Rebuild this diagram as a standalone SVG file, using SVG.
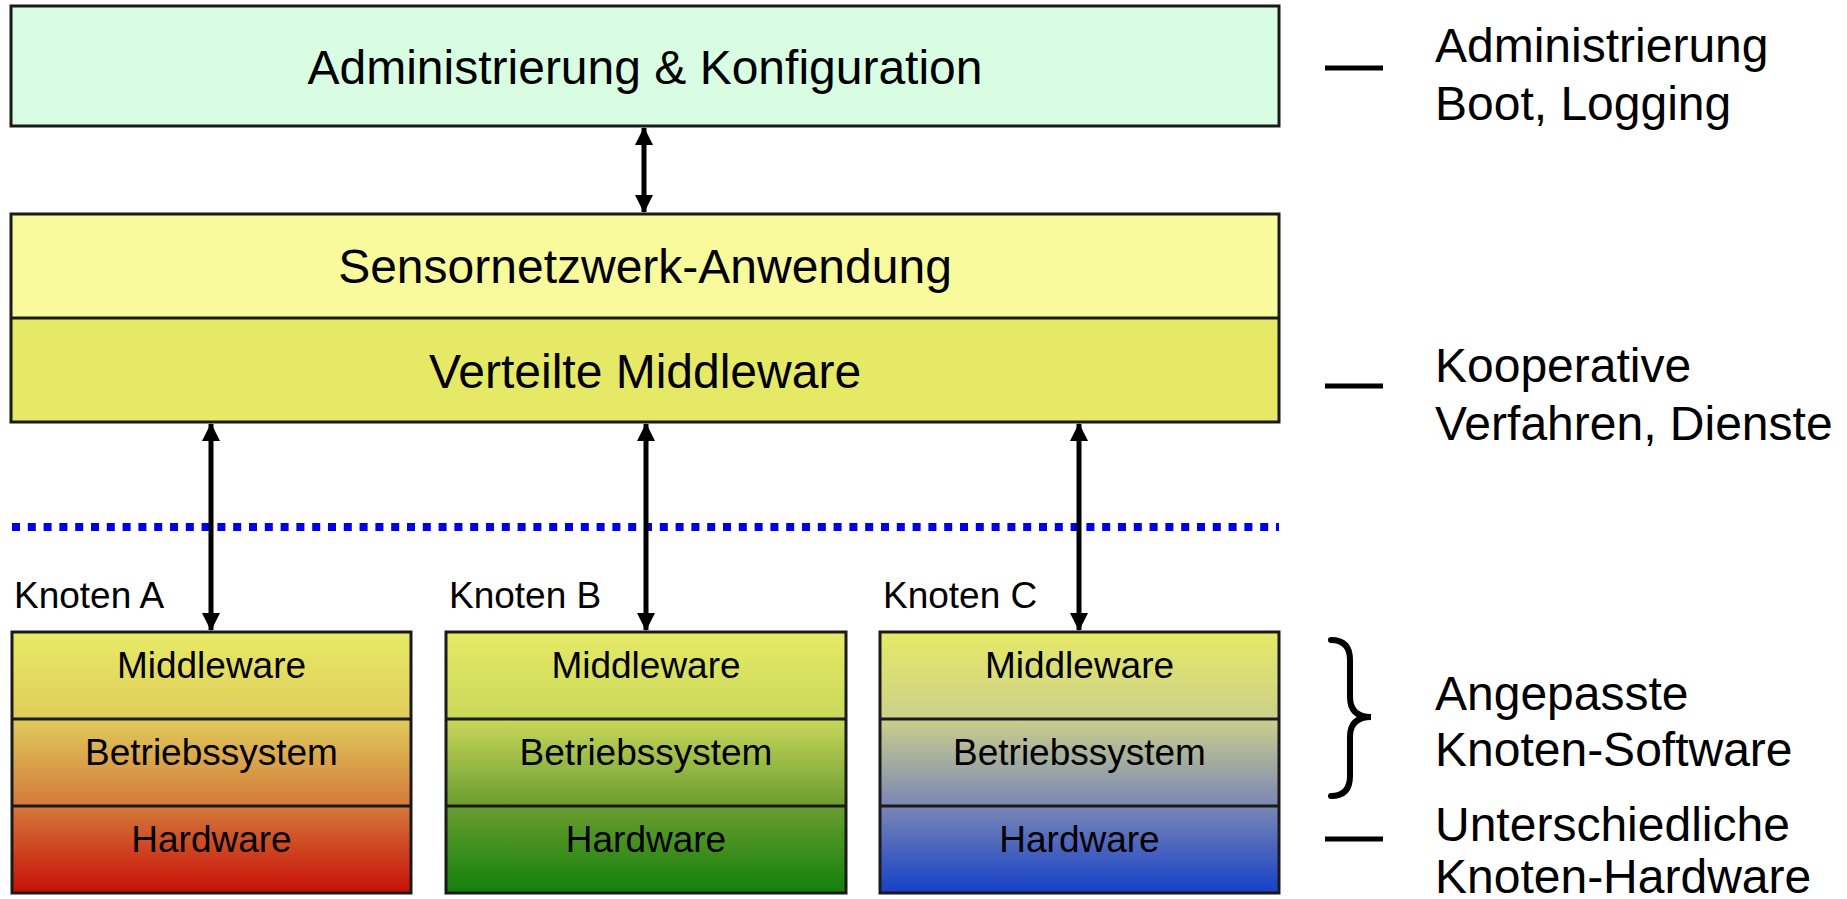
<svg xmlns="http://www.w3.org/2000/svg" width="1847" height="899" viewBox="0 0 1847 899">
<style>
text{font-family:"Liberation Sans",Arial,sans-serif;fill:#000}
.big{font-size:48px}
.mid{font-size:37px}
.c{text-anchor:middle}
.box{stroke:#1a1a1a;stroke-width:3}
.div{stroke:#1a1a1a;stroke-width:3}
.arr{stroke:#000;stroke-width:5;fill:none;marker-start:url(#ah);marker-end:url(#ah)}
.dash{stroke:#000;stroke-width:5}
</style>
<defs>
<marker id="ah" markerUnits="userSpaceOnUse" viewBox="0 0 18 18" markerWidth="18" markerHeight="18" refX="17" refY="9" orient="auto-start-reverse">
<path d="M0,0 L18,9 L0,18 Z" fill="#000"/>
</marker>
<linearGradient id="gA" x1="0" y1="0" x2="0" y2="1">
<stop offset="0" stop-color="#e7eb66"/>
<stop offset="0.33" stop-color="#e0cc5b"/>
<stop offset="0.66" stop-color="#d47c3c"/>
<stop offset="1" stop-color="#c80e06"/>
</linearGradient>
<linearGradient id="gB" x1="0" y1="0" x2="0" y2="1">
<stop offset="0" stop-color="#e6ea66"/>
<stop offset="0.33" stop-color="#cad85a"/>
<stop offset="0.66" stop-color="#6e9e32"/>
<stop offset="1" stop-color="#12800a"/>
</linearGradient>
<linearGradient id="gC" x1="0" y1="0" x2="0" y2="1">
<stop offset="0" stop-color="#e6ea66"/>
<stop offset="0.33" stop-color="#ccd08a"/>
<stop offset="0.66" stop-color="#7c88b4"/>
<stop offset="1" stop-color="#1640c8"/>
</linearGradient>
</defs>
<rect width="1847" height="899" fill="#fff"/>

<g id="admin">
<rect class="box" x="11" y="6" width="1268" height="120" fill="#d9fde3"/>
<text class="big c" x="645" y="84">Administrierung &amp; Konfiguration</text>
</g>

<g id="middleware-main">
<rect x="11" y="214" width="1268" height="104" fill="#f8fa9c"/>
<rect x="11" y="318" width="1268" height="104" fill="#e5e966"/>
<rect class="box" x="11" y="214" width="1268" height="208" fill="none"/>
<line class="div" x1="11" y1="318" x2="1279" y2="318"/>
<text class="big c" x="645" y="283">Sensornetzwerk-Anwendung</text>
<text class="big c" x="645" y="388">Verteilte Middleware</text>
</g>

<g id="separator">
<line x1="12" y1="527" x2="1279" y2="527" stroke="#0000ee" stroke-width="8" stroke-dasharray="8 7.8"/>
</g>

<g id="nodeA">
<text class="mid" x="14" y="608">Knoten A</text>
<rect class="box" x="12" y="632" width="399" height="261" fill="url(#gA)"/>
<line class="div" x1="12" y1="719" x2="411" y2="719"/>
<line class="div" x1="12" y1="806" x2="411" y2="806"/>
<text class="mid c" x="211.5" y="678">Middleware</text>
<text class="mid c" x="211.5" y="765">Betriebssystem</text>
<text class="mid c" x="211.5" y="852">Hardware</text>
</g>

<g id="nodeB">
<text class="mid" x="449" y="608">Knoten B</text>
<rect class="box" x="446" y="632" width="400" height="261" fill="url(#gB)"/>
<line class="div" x1="446" y1="719" x2="846" y2="719"/>
<line class="div" x1="446" y1="806" x2="846" y2="806"/>
<text class="mid c" x="646" y="678">Middleware</text>
<text class="mid c" x="646" y="765">Betriebssystem</text>
<text class="mid c" x="646" y="852">Hardware</text>
</g>

<g id="nodeC">
<text class="mid" x="883" y="608">Knoten C</text>
<rect class="box" x="880" y="632" width="399" height="261" fill="url(#gC)"/>
<line class="div" x1="880" y1="719" x2="1279" y2="719"/>
<line class="div" x1="880" y1="806" x2="1279" y2="806"/>
<text class="mid c" x="1079.5" y="678">Middleware</text>
<text class="mid c" x="1079.5" y="765">Betriebssystem</text>
<text class="mid c" x="1079.5" y="852">Hardware</text>
</g>

<g id="connectors">
<line class="arr" x1="644" y1="128" x2="644" y2="212"/>
<line class="arr" x1="211" y1="424" x2="211" y2="630"/>
<line class="arr" x1="646" y1="424" x2="646" y2="630"/>
<line class="arr" x1="1079" y1="424" x2="1079" y2="630"/>
</g>

<g id="legend">
<line class="dash" x1="1325" y1="68" x2="1383" y2="68"/>
<text class="big" x="1435" y="62">Administrierung</text>
<text class="big" x="1435" y="120">Boot, Logging</text>
<line class="dash" x1="1325" y1="386" x2="1383" y2="386"/>
<text class="big" x="1435" y="382">Kooperative</text>
<text class="big" x="1435" y="440">Verfahren, Dienste</text>
<path d="M1331,640 Q1350,640 1350,660 L1350,697 Q1350,717 1371,717 Q1350,717 1350,737 L1350,776 Q1350,796 1331,796" fill="none" stroke="#000" stroke-width="6" stroke-linecap="round"/>
<text class="big" x="1435" y="710">Angepasste</text>
<text class="big" x="1435" y="766">Knoten-Software</text>
<line class="dash" x1="1325" y1="839" x2="1383" y2="839"/>
<text class="big" x="1435" y="841">Unterschiedliche</text>
<text class="big" x="1435" y="893">Knoten-Hardware</text>
</g>
</svg>
